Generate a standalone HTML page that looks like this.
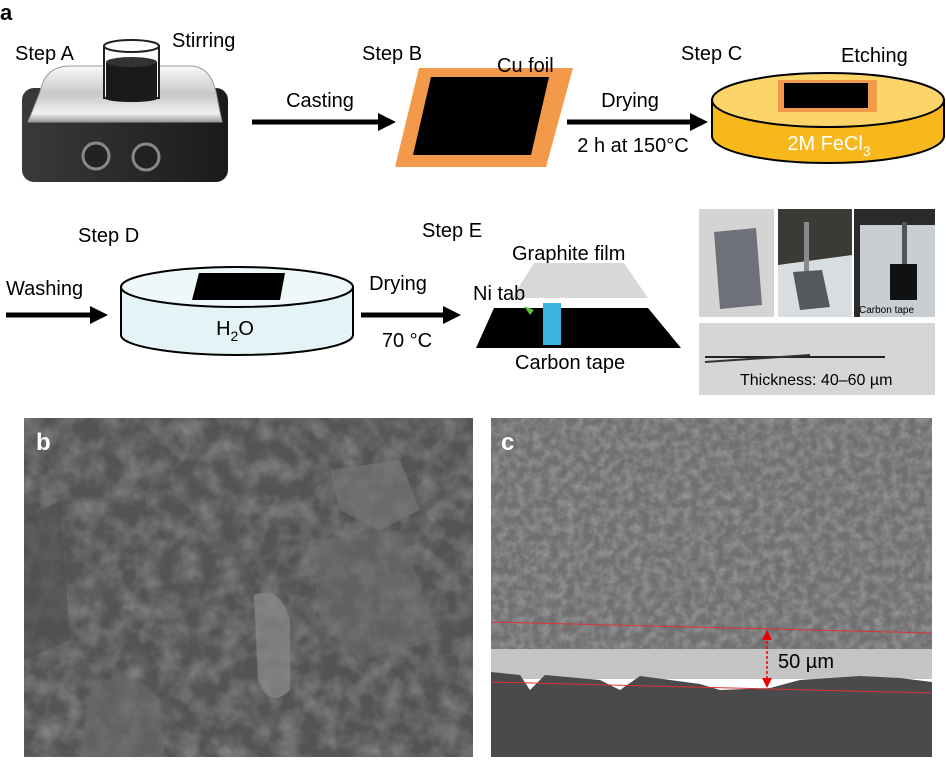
<!DOCTYPE html>
<html><head><meta charset="utf-8"><style>
html,body{margin:0;padding:0;background:#fff;}
svg{display:block;}
text{font-family:"Liberation Sans",sans-serif;}
</style></head><body>
<svg width="946" height="760" viewBox="0 0 946 760" xmlns="http://www.w3.org/2000/svg">
<defs>
<linearGradient id="silver" x1="0" y1="0" x2="0" y2="1"><stop offset="0" stop-color="#fafafa"/><stop offset="0.5" stop-color="#c8c8c8"/><stop offset="0.85" stop-color="#f0f0f0"/><stop offset="1" stop-color="#9a9a9a"/></linearGradient>
<linearGradient id="base" x1="0" y1="0" x2="1" y2="0"><stop offset="0" stop-color="#3a3a3a"/><stop offset="0.5" stop-color="#2a2a2a"/><stop offset="1" stop-color="#1a1a1a"/></linearGradient>
<filter id="nb" x="0" y="0" width="100%" height="100%"><feTurbulence type="fractalNoise" baseFrequency="0.05" numOctaves="3" seed="3"/><feColorMatrix type="matrix" values="0 0 0 0 0.3  0 0 0 0 0.3  0 0 0 0 0.3  0 0 0 -1.2 0.8"/></filter>
<filter id="nc" x="0" y="0" width="100%" height="100%"><feTurbulence type="fractalNoise" baseFrequency="0.12" numOctaves="3" seed="7"/><feColorMatrix type="matrix" values="0 0 0 0 0.3  0 0 0 0 0.3  0 0 0 0 0.3  0 0 0 -1.8 1.2"/></filter>
</defs>
<text x="0" y="20" font-size="22" font-weight="bold">a</text>

<!-- Step A -->
<text x="15" y="60" font-size="20">Step A</text>
<text x="172" y="47" font-size="20">Stirring</text>
<rect x="22" y="88" width="206" height="94" rx="12" fill="url(#base)"/>
<path d="M40 92 Q45 66 70 66 L190 66 Q210 66 216 92 L222 122 L28 122 Z" fill="url(#silver)" stroke="#999" stroke-width="1"/>
<circle cx="96" cy="156" r="13" fill="#222" stroke="#888" stroke-width="3"/>
<circle cx="146" cy="157" r="13" fill="#222" stroke="#888" stroke-width="3"/>
<rect x="104" y="46" width="55" height="52" fill="#fff" stroke="#222" stroke-width="2"/>
<ellipse cx="131.5" cy="46" rx="27.5" ry="6" fill="#fff" stroke="#222" stroke-width="2"/>
<rect x="106" y="62" width="51" height="36" fill="#1a1a1a"/>
<ellipse cx="131.5" cy="62" rx="25.5" ry="5" fill="#333"/>
<ellipse cx="131.5" cy="98" rx="27" ry="4" fill="#1a1a1a"/>

<text x="320" y="107" font-size="20" text-anchor="middle">Casting</text>
<line x1="252" y1="122" x2="380" y2="122" stroke="#000" stroke-width="5"/>
<polygon points="378,113 396,122 378,131" fill="#000"/>

<text x="362" y="60" font-size="20">Step B</text>
<polygon points="419,68 573,68 546,167 395,167" fill="#f39a4a"/>
<polygon points="431,77 549,77 531,155 413,155" fill="#000"/>
<text x="497" y="72" font-size="20">Cu foil</text>

<text x="630" y="107" font-size="20" text-anchor="middle">Drying</text>
<line x1="567" y1="122" x2="692" y2="122" stroke="#000" stroke-width="5"/>
<polygon points="690,113 708,122 690,131" fill="#000"/>
<text x="633" y="152" font-size="20" text-anchor="middle">2 h at 150°C</text>

<text x="681" y="60" font-size="20">Step C</text>
<text x="841" y="62" font-size="20">Etching</text>
<path d="M712 100 L712 136 A116 27 0 0 0 944 136 L944 100 Z" fill="#f7b81c" stroke="#000" stroke-width="2"/>
<ellipse cx="828" cy="100" rx="116" ry="27" fill="#fbd46a" stroke="#000" stroke-width="2"/>
<rect x="778" y="80" width="99" height="32" fill="#f39a4a"/>
<rect x="784" y="83" width="84" height="25" fill="#000"/>
<text x="829" y="150" font-size="20" fill="#fff" text-anchor="middle">2M FeCl<tspan font-size="14" dy="6">3</tspan></text>

<text x="78" y="242" font-size="20">Step D</text>
<text x="6" y="295" font-size="20">Washing</text>
<line x1="6" y1="315" x2="92" y2="315" stroke="#000" stroke-width="5"/>
<polygon points="90,306 108,315 90,324" fill="#000"/>
<path d="M121 287 L121 335 A116 20 0 0 0 353 335 L353 287 Z" fill="#e4f3f6" stroke="#000" stroke-width="2"/>
<ellipse cx="237" cy="287" rx="116" ry="20" fill="#eef8fa" stroke="#000" stroke-width="2"/>
<polygon points="199,273 285,273 280,300 192,300" fill="#000"/>
<text x="235" y="335" font-size="20" text-anchor="middle">H<tspan font-size="14" dy="6">2</tspan><tspan dy="-6">O</tspan></text>

<text x="398" y="290" font-size="20" text-anchor="middle">Drying</text>
<line x1="361" y1="315" x2="445" y2="315" stroke="#000" stroke-width="5"/>
<polygon points="443,306 461,315 443,324" fill="#000"/>
<text x="407" y="347" font-size="20" text-anchor="middle">70 °C</text>

<text x="422" y="237" font-size="20">Step E</text>
<text x="512" y="260" font-size="20">Graphite film</text>
<polygon points="534,263 624,263 648,298 512,298" fill="#d8d8d8"/>
<polygon points="494,308 648,308 681,348 476,348" fill="#000"/>
<rect x="543" y="303" width="18" height="42" fill="#3fb3e0"/>
<polygon points="524,306 534,310 530,315" fill="#5ac43a"/>
<text x="473" y="300" font-size="20">Ni tab</text>
<text x="515" y="369" font-size="20">Carbon tape</text>

<rect x="699" y="209" width="75" height="108" fill="#d4d4d4"/>
<polygon points="714,232 756,228 762,305 720,309" fill="#6e7278"/>
<rect x="778" y="209" width="74" height="108" fill="#3c3a36"/>
<polygon points="778,265 852,255 852,317 778,317" fill="#d8dde2"/>
<rect x="804" y="222" width="5" height="50" fill="#8a8a8a"/>
<polygon points="793,272 822,270 830,307 800,310" fill="#55595e"/>
<rect x="854" y="209" width="81" height="108" fill="#2a2a2a"/>
<polygon points="860,225 935,225 935,317 860,317" fill="#c9ced3"/>
<rect x="902" y="222" width="5" height="42" fill="#555"/>
<rect x="890" y="264" width="27" height="36" fill="#111"/>
<text x="859" y="313" font-size="10">Carbon tape</text>
<rect x="699" y="323" width="236" height="72" fill="#d6d6d6"/>
<line x1="705" y1="357" x2="885" y2="357" stroke="#222" stroke-width="2"/>
<line x1="705" y1="362" x2="810" y2="355" stroke="#333" stroke-width="2"/>
<text x="740" y="385" font-size="16">Thickness: 40–60 µm</text>

<!-- panel b -->
<rect x="24" y="418" width="449" height="339" fill="#545454"/>
<rect x="24" y="418" width="449" height="339" filter="url(#nb)"/>
<path d="M254 595 Q280 585 290 620 L290 690 Q270 710 258 680 Z" fill="#8a8a8a" opacity="0.7"/>
<path d="M330 470 L400 460 L420 510 L380 530 L340 510 Z" fill="#787878" opacity="0.6"/>
<path d="M310 540 L400 530 L440 640 L360 660 L320 620 Z" fill="#6e6e6e" opacity="0.5"/>
<path d="M24 520 L60 500 L70 640 L24 660 Z" fill="#4e4e4e" opacity="0.6"/>
<path d="M90 690 Q130 660 160 700 L165 757 L80 757 Z" fill="#6a6a6a" opacity="0.6"/>
<text x="36" y="450" font-size="24" font-weight="bold" fill="#fff">b</text>

<!-- panel c -->
<rect x="491" y="418" width="441" height="235" fill="#707070"/>
<rect x="491" y="418" width="441" height="235" filter="url(#nc)"/>
<rect x="491" y="649" width="441" height="30" fill="#c4c4c4"/>
<path d="M491 672 L520 675 L530 690 L545 675 L600 680 L620 690 L640 676 L700 684 L720 690 L770 688 L800 680 L860 676 L900 678 L932 682 L932 757 L491 757 Z" fill="#4a4a4a"/>
<line x1="491" y1="622" x2="932" y2="633" stroke="#d33" stroke-width="1"/>
<line x1="491" y1="682" x2="932" y2="693" stroke="#d33" stroke-width="1"/>
<line x1="767" y1="636" x2="767" y2="682" stroke="#e00" stroke-width="1.5" stroke-dasharray="3,2"/>
<polygon points="762,640 767,630 772,640" fill="#e00"/>
<polygon points="762,678 767,688 772,678" fill="#e00"/>
<text x="778" y="668" font-size="20" fill="#000">50 µm</text>
<text x="501" y="450" font-size="24" font-weight="bold" fill="#fff">c</text>
</svg>
</body></html>
